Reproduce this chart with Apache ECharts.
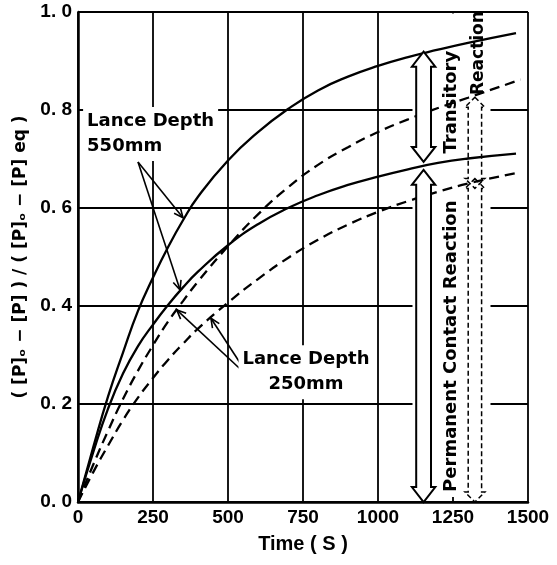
<!DOCTYPE html>
<html><head><meta charset="utf-8">
<script src="https://cdn.jsdelivr.net/npm/echarts@6/dist/echarts.min.js"></script>
<style>html,body{margin:0;padding:0;background:#fff}#c{width:557px;height:565px}</style>
</head><body><div id="c"></div>
<script>
// ---- data ----
const timesSolid  = [0, 50, 100, 150, 200, 250, 300, 350, 400, 500, 600, 700, 800, 900, 1000, 1100, 1200, 1300, 1460];
const timesDashed = [0, 50, 100, 150, 200, 250, 300, 350, 400, 500, 600, 700, 800, 900, 1000, 1100, 1200, 1300, 1475];
const depth550Total     = [0, 0.11, 0.215, 0.305, 0.39, 0.458, 0.52, 0.575, 0.623, 0.697, 0.755, 0.802, 0.840, 0.868, 0.890, 0.908, 0.923, 0.937, 0.957];
const depth550Permanent = [0, 0.10, 0.19, 0.262, 0.318, 0.362, 0.402, 0.438, 0.47, 0.524, 0.567, 0.60, 0.626, 0.647, 0.664, 0.679, 0.692, 0.701, 0.711];
const depth250Total     = [0, 0.075, 0.145, 0.21, 0.268, 0.32, 0.368, 0.41, 0.45, 0.522, 0.587, 0.642, 0.688, 0.724, 0.755, 0.781, 0.804, 0.825, 0.862];
const depth250Permanent = [0, 0.06, 0.115, 0.167, 0.213, 0.253, 0.29, 0.323, 0.354, 0.407, 0.455, 0.498, 0.535, 0.566, 0.592, 0.614, 0.633, 0.65, 0.673];
const xTickValues = [0, 250, 500, 750, 1000, 1250, 1500];
const yTickValues = [0, 0.2, 0.4, 0.6, 0.8, 1.0];
const xTitle = 'Time ( S )';
const yTitle = '( [P]ₒ − [P] ) / ( [P]ₒ − [P] eq )';

// annotations (data coordinates)
const pointerFrom = [[200, 0.694], [200, 0.694], [573, 0.253], [573, 0.253]];
const pointerTo   = [[350, 0.58], [340, 0.433], [329, 0.392], [443, 0.375]];
const arrowTime   = [1152, 1152, 1323, 1323];
const arrowLow    = [0.694, 0, 0.64, 0];
const arrowHigh   = [0.919, 0.678, 0.826, 0.66];
const arrowDashed = [false, false, true, true];
const noteTexts = ['Lance Depth\n550mm', 'Lance Depth\n250mm', 'Transitory', 'Reaction', 'Permanent Contact Reaction'];
const noteTime  = [17, 760, 1243, 1335, 1243];
const noteValue = [0.751, 0.265, 0.816, 0.916, 0.318];

const pair = (xs, ys) => xs.map((x, i) => [x, ys[i]]);
const TXT = '"DejaVu Sans", sans-serif';
const NUM = '"Liberation Sans", Arial, sans-serif';

const chart = echarts.init(document.getElementById('c'));
const lineBase = (name, xs, ys, dashed) => ({
  name, type: 'line', data: pair(xs, ys), smooth: 0.5, showSymbol: false, z: 3,
  lineStyle: {color: '#000', width: 2.3, type: dashed ? [10, 6] : 'solid'}
});

chart.setOption({
  animation: false,
  backgroundColor: '#fff',
  grid: {left: 78, right: 29, top: 12, bottom: 63},
  xAxis: {
    type: 'value', min: 0, max: 1500, interval: 250,
    axisLine: {show: true, onZero: false, lineStyle: {color: '#000', width: 2.5}},
    axisTick: {show: false},
    splitLine: {show: true, lineStyle: {color: '#000', width: 1.8}},
    axisLabel: {color: '#000', fontFamily: NUM, fontWeight: 'bold', fontSize: 19, margin: 6,
      formatter: v => xTickValues.includes(v) ? String(v) : ''},
    name: xTitle, nameLocation: 'middle', nameGap: 32,
    nameTextStyle: {color: '#000', fontFamily: NUM, fontWeight: 'bold', fontSize: 20}
  },
  yAxis: {
    type: 'value', min: 0, max: 1, interval: 0.2,
    axisLine: {show: true, onZero: false, lineStyle: {color: '#000', width: 2.5}},
    axisTick: {show: false},
    splitLine: {show: true, lineStyle: {color: '#000', width: 1.8}},
    axisLabel: {color: '#000', fontFamily: NUM, fontWeight: 'bold', fontSize: 19, margin: 6,
      formatter: v => yTickValues.some(t => Math.abs(t - v) < 1e-9) ? v.toFixed(1).replace('.', '. ') : ''},
    name: yTitle, nameLocation: 'middle', nameGap: 45,
    nameTextStyle: {color: '#000', fontFamily: TXT, fontWeight: 'bold', fontSize: 17}
  },
  series: [
    {type: 'line', data: [], z: 1, silent: true,
      markArea: {silent: true, itemStyle: {color: '#fff'},
        data: [[{xAxis: 1115, yAxis: 0.01}, {xAxis: 1375, yAxis: 0.997}]]}},
    lineBase('550mm total', timesSolid, depth550Total, false),
    lineBase('550mm permanent', timesSolid, depth550Permanent, false),
    lineBase('250mm total', timesDashed, depth250Total, true),
    lineBase('250mm permanent', timesDashed, depth250Permanent, true),
    {
      type: 'custom', z: 5, silent: true, clip: false,
      data: pointerFrom.map((p, i) => [p[0], p[1], pointerTo[i][0], pointerTo[i][1]]),
      renderItem: (params, api) => {
        const a = api.coord([api.value(0), api.value(1)]);
        const b = api.coord([api.value(2), api.value(3)]);
        const ang = Math.atan2(b[1] - a[1], b[0] - a[0]);
        const L = 10, w = 0.42;
        const h1 = [b[0] - L * Math.cos(ang - w), b[1] - L * Math.sin(ang - w)];
        const h2 = [b[0] - L * Math.cos(ang + w), b[1] - L * Math.sin(ang + w)];
        const st = {stroke: '#000', lineWidth: 1.6, fill: null};
        return {type: 'group', children: [
          {type: 'line', shape: {x1: a[0], y1: a[1], x2: b[0], y2: b[1]}, style: st},
          {type: 'polyline', shape: {points: [h1, b, h2]}, style: st}
        ]};
      }
    },
    {
      type: 'custom', z: 6, silent: true, clip: false,
      data: arrowTime.map((t, i) => [t, arrowLow[i], arrowHigh[i], arrowDashed[i] ? 1 : 0]),
      renderItem: (params, api) => {
        const dashed = api.value(3) === 1;
        const top = api.coord([api.value(0), api.value(2)]);
        const bot = api.coord([api.value(0), api.value(1)]);
        const cx = top[0], yT = top[1], yB = bot[1];
        const s = dashed ? 6.7 : 7.4, h = dashed ? 10 : 11.7, L = dashed ? 10 : 15;
        const pts = [[cx, yT], [cx + h, yT + L], [cx + s, yT + L], [cx + s, yB - L], [cx + h, yB - L], [cx, yB],
          [cx - h, yB - L], [cx - s, yB - L], [cx - s, yT + L], [cx - h, yT + L]];
        return {type: 'polygon', shape: {points: pts},
          style: {fill: dashed ? null : '#fff', stroke: '#000', lineWidth: dashed ? 1.5 : 2, lineDash: dashed ? [5, 3] : null}};
      }
    },
    {
      type: 'custom', z: 7, silent: true, clip: false,
      data: noteTime.map((t, i) => [t, noteValue[i]]),
      renderItem: (params, api) => {
        const i = params.dataIndex;
        const p = api.coord([api.value(0), api.value(1)]);
        const vertical = i >= 2;
        return {type: 'text', x: p[0], y: p[1], rotation: vertical ? Math.PI / 2 : 0,
          style: {text: noteTexts[i], fill: '#000', fontFamily: TXT, fontWeight: 'bold',
            fontSize: i === 3 ? 17 : 18, lineHeight: 25,
            align: i === 0 ? 'left' : 'center', verticalAlign: 'middle',
            backgroundColor: vertical ? null : '#fff', padding: vertical ? 0 : [2, 4]}};
      }
    }
  ]
});
</script></body></html>
